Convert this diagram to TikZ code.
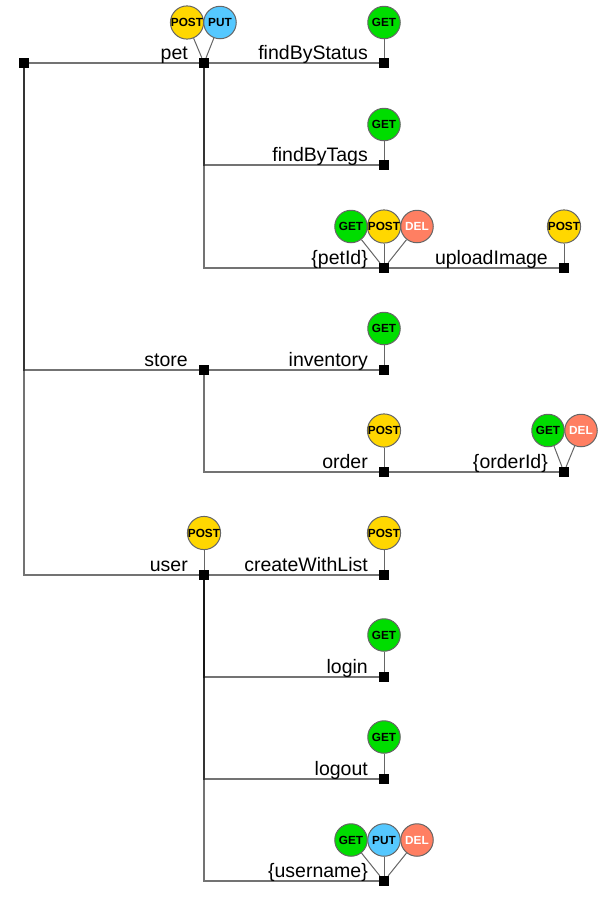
\documentclass[tikz,border=0pt]{standalone}
\usepackage{fontspec}
\setmainfont{Liberation Sans}
\definecolor{getcol}{HTML}{00DD00}
\definecolor{postcol}{HTML}{FFD700}
\definecolor{putcol}{HTML}{55C8FF}
\definecolor{delcol}{HTML}{FF7F62}
\tikzset{
  res/.style={draw=none,fill=black,minimum size=10pt,inner sep=0pt},
  edge/.style={draw=black,opacity=0.55,line width=1.05pt},
  link/.style={draw=black!60,line width=1pt},
  lbl/.style={anchor=base east,inner sep=0pt,font=\fontsize{19.5}{22}\selectfont},
  verb/.style={circle,draw=black!60,line width=1pt,minimum size=32.5pt,inner sep=0pt,font=\fontsize{11.8}{13}\selectfont\bfseries},
  getm/.style={verb,fill=getcol},
  postm/.style={verb,fill=postcol},
  putm/.style={verb,fill=putcol},
  delm/.style={verb,fill=delcol,text=white},
}
\begin{document}
\begin{tikzpicture}[x=1pt,y=-1pt]
\useasboundingbox (0,0) rectangle (613,898);

% resources
\node[res] (root) at (24,63) {};
\node[res] (pet) at (204,63) {};
\node[res] (findByStatus) at (384,63) {};
\node[res] (findByTags) at (384,165) {};
\node[res] (petId) at (384,268) {};
\node[res] (uploadImage) at (564,268) {};
\node[res] (store) at (204,370) {};
\node[res] (inventory) at (384,370) {};
\node[res] (order) at (384,472) {};
\node[res] (orderId) at (564,472) {};
\node[res] (user) at (204,575) {};
\node[res] (createWithList) at (384,575) {};
\node[res] (login) at (384,677) {};
\node[res] (logout) at (384,779) {};
\node[res] (username) at (384,881) {};

% tree
\draw[edge] (root) -- (pet);
\draw[edge] (root) |- (store);
\draw[edge] (root) |- (user);
\draw[edge] (pet) -- (findByStatus);
\draw[edge] (pet) |- (findByTags);
\draw[edge] (pet) |- (petId);
\draw[edge] (petId) -- (uploadImage);
\draw[edge] (store) -- (inventory);
\draw[edge] (store) |- (order);
\draw[edge] (order) -- (orderId);
\draw[edge] (user) -- (createWithList);
\draw[edge] (user) |- (login);
\draw[edge] (user) |- (logout);
\draw[edge] (user) |- (username);

% names
\node[lbl] (petText) at (188,59) {pet};
\node[lbl] (findByStatusText) at (368,59) {findByStatus};
\node[lbl] (findByTagsText) at (368,161) {findByTags};
\node[lbl] (petIdText) at (368,264) {\{petId\}};
\node[lbl] (uploadImageText) at (548,264) {uploadImage};
\node[lbl] (storeText) at (188,366) {store};
\node[lbl] (inventoryText) at (368,366) {inventory};
\node[lbl] (orderText) at (368,468) {order};
\node[lbl] (orderIdText) at (548,468) {\{orderId\}};
\node[lbl] (userText) at (188,571) {user};
\node[lbl] (createWithListText) at (368,571) {createWithList};
\node[lbl] (loginText) at (368,673) {login};
\node[lbl] (logoutText) at (368,775) {logout};
\node[lbl] (usernameText) at (368,877) {\{username\}};

% methods
\node[postm] (petPost) at (187,22.5) {POST};
\node[putm] (petPut) at (220,22.5) {PUT};
\node[getm] (findByStatusGet) at (384,22.5) {GET};
\node[getm] (findByTagsGet) at (384,124.5) {GET};
\node[getm] (petIdGet) at (351,226.5) {GET};
\node[postm] (petIdPost) at (384,226.5) {POST};
\node[delm] (petIdDel) at (417,226.5) {DEL};
\node[postm] (uploadImagePost) at (564,226.5) {POST};
\node[getm] (inventoryGet) at (384,328.5) {GET};
\node[postm] (orderPost) at (384,430.5) {POST};
\node[getm] (orderIdGet) at (548,430.5) {GET};
\node[delm] (orderIdDel) at (581,430.5) {DEL};
\node[postm] (userPost) at (204,533) {POST};
\node[postm] (createWithListPost) at (384,533) {POST};
\node[getm] (loginGet) at (384,635) {GET};
\node[getm] (logoutGet) at (384,737) {GET};
\node[getm] (usernameGet) at (351,840) {GET};
\node[putm] (usernamePut) at (384,840) {PUT};
\node[delm] (usernameDel) at (417,840) {DEL};

\draw[link] (petPost) -- (pet);
\draw[link] (petPut) -- (pet);
\draw[link] (findByStatusGet) -- (findByStatus);
\draw[link] (findByTagsGet) -- (findByTags);
\draw[link] (petIdGet) -- (petId);
\draw[link] (petIdPost) -- (petId);
\draw[link] (petIdDel) -- (petId);
\draw[link] (uploadImagePost) -- (uploadImage);
\draw[link] (inventoryGet) -- (inventory);
\draw[link] (orderPost) -- (order);
\draw[link] (orderIdGet) -- (orderId);
\draw[link] (orderIdDel) -- (orderId);
\draw[link] (userPost) -- (user);
\draw[link] (createWithListPost) -- (createWithList);
\draw[link] (loginGet) -- (login);
\draw[link] (logoutGet) -- (logout);
\draw[link] (usernameGet) -- (username);
\draw[link] (usernamePut) -- (username);
\draw[link] (usernameDel) -- (username);
\end{tikzpicture}
\end{document}
